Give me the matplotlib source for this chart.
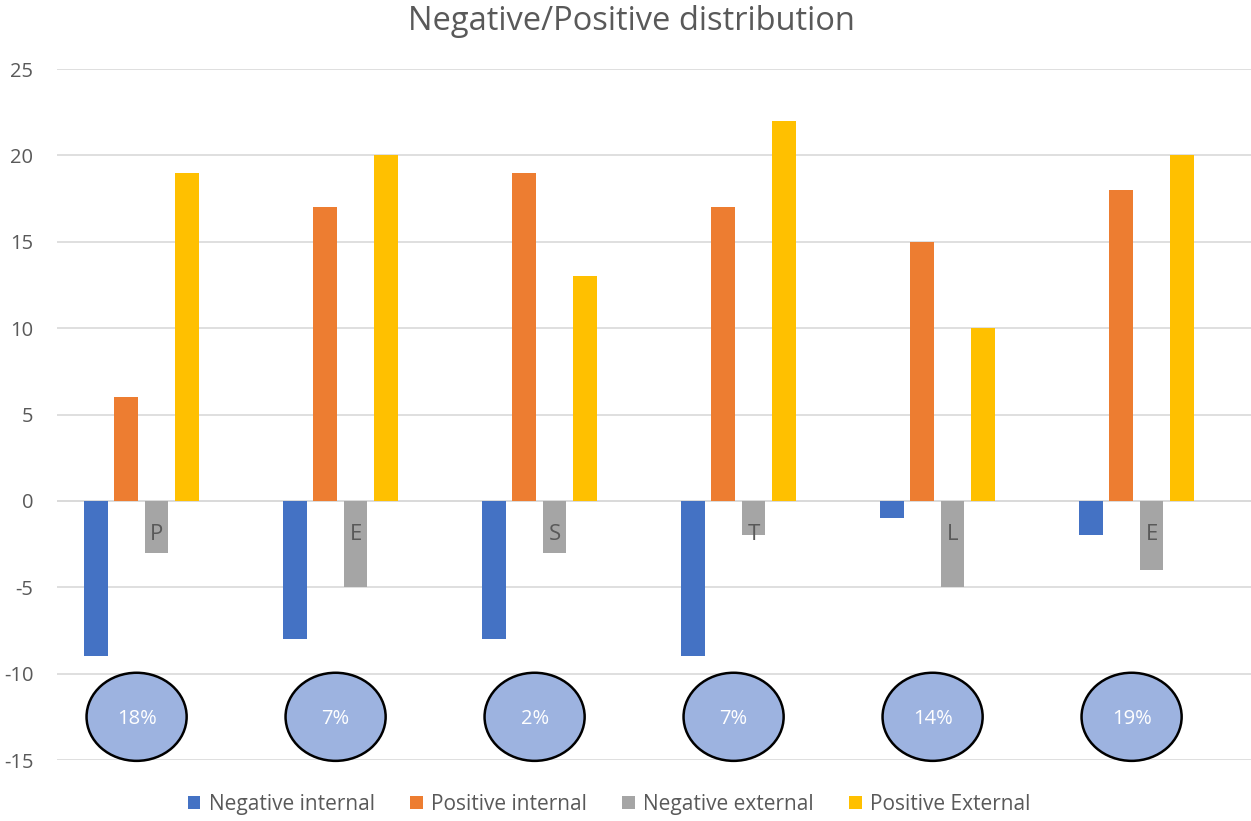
import numpy as np
import matplotlib.pyplot as plt
from matplotlib.patches import Ellipse, Patch

plt.rcParams['font.family'] = ['Open Sans', 'DejaVu Sans']
plt.rcParams['axes.unicode_minus'] = False

categories = ['P', 'E', 'S', 'T', 'L', 'E']
neg_internal = [-9, -8, -8, -9, -1, -2]
pos_internal = [6, 17, 19, 17, 15, 18]
neg_external = [-3, -5, -3, -2, -5, -4]
pos_external = [19, 20, 13, 22, 10, 20]
shares = ['18%', '7%', '2%', '7%', '14%', '19%']

series = [
    ('Negative internal', neg_internal, '#4472C4'),
    ('Positive internal', pos_internal, '#ED7D31'),
    ('Negative external', neg_external, '#A5A5A5'),
    ('Positive External', pos_external, '#FFC000'),
]

txt = '#595959'
grid = '#D9D9D9'

fig = plt.figure(figsize=(12.51, 8.21), dpi=100)
ax = fig.add_axes([57 / 1251, 1 - 760 / 821, 1194 / 1251, 691 / 821])

x = np.arange(len(categories))
pitch = 0.153
width = 0.12
# five slots per group, the last one is left empty
for i, (name, vals, col) in enumerate(series):
    ax.bar(x + (i - 2) * pitch, vals, width, color=col, label=name, zorder=3)

ax.set_xlim(-0.5, len(categories) - 0.5)
ax.set_ylim(-15, 25)
ax.set_yticks(range(-15, 26, 5))
ax.set_xticks([])
ax.yaxis.grid(True, color=grid, linewidth=1.2, zorder=0)
ax.axhline(0, color=grid, linewidth=1.2, zorder=1)
for s in ax.spines.values():
    s.set_visible(False)
ax.tick_params(axis='y', length=0, pad=17, labelsize=14.5, labelcolor=txt)

# category letters sit just under the zero line
for xi, c in zip(x, categories):
    ax.annotate(c, (xi, 0), xytext=(0, -28.5), textcoords='offset points',
                ha='center', va='baseline', fontsize=16, color=txt, zorder=5)

# share bubbles under each group
for xi, s in zip(x, shares):
    e = Ellipse((xi - 0.1, -12.5), 0.503, 5.1, facecolor='#9DB3E0',
                edgecolor='black', linewidth=1.8, zorder=4, clip_on=False)
    ax.add_patch(e)
    ax.text(xi - 0.1, -12.65, s, ha='center', va='center', fontsize=14.5,
            color='white', zorder=5)

fig.text(631 / 1251, 1 - 29.5 / 821, 'Negative/Positive distribution',
         ha='center', va='baseline', fontsize=23.5, color=txt)

handles = [Patch(facecolor=c, label=n) for n, v, c in series]
fig.legend(handles=handles, loc='center', bbox_to_anchor=(609 / 1251, 1 - 804 / 821),
           ncol=4, frameon=False, fontsize=15, labelcolor=txt,
           handlelength=0.6, handleheight=0.6, handletextpad=0.4,
           columnspacing=1.7)

fig.savefig('out.png', dpi=100, facecolor='white')
